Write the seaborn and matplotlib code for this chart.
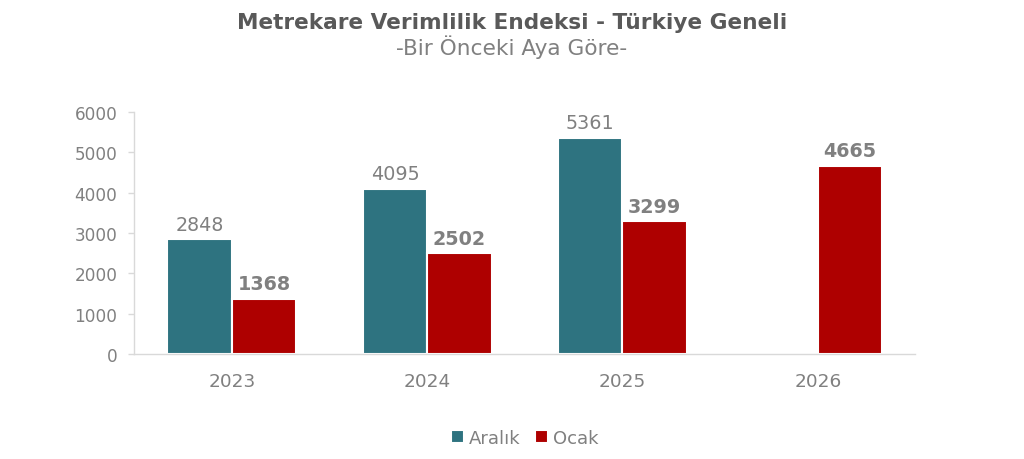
import pandas as pd
import seaborn as sns
import matplotlib.pyplot as plt
import numpy as np

years = ['2023', '2024', '2025', '2026']
aralik = [2848, 4095, 5361, np.nan]
ocak = [1368, 2502, 3299, 4665]

df = pd.DataFrame({
    'yil': years * 2,
    'ay': ['Aralık'] * 4 + ['Ocak'] * 4,
    'deger': aralik + ocak,
})

sns.set_style('white')
plt.rcParams['font.family'] = ['DejaVu Sans']
grey = '#808080'
colors = {'Aralık': '#2E7380', 'Ocak': '#AE0000'}

fig, ax = plt.subplots(figsize=(10.24, 4.6), dpi=100)
fig.subplots_adjust(left=0.131, right=0.894, top=0.754, bottom=0.228)

sns.barplot(data=df, x='yil', y='deger', hue='ay', palette=colors, ax=ax,
            width=0.66, edgecolor='white', linewidth=1.5, saturation=1)

for cont, bold in zip(ax.containers, ['normal', 'bold']):
    labels = ['' if np.isnan(v) else f'{int(v)}' for v in cont.datavalues]
    ax.bar_label(cont, labels=labels, padding=4, fontsize=13.8, color=grey, fontweight=bold)

ax.set_ylim(0, 6000)
ax.set_xlim(-0.5, 3.5)
ax.set_yticks(range(0, 6001, 1000))
ax.set_xlabel('')
ax.set_ylabel('')
ax.tick_params(axis='y', labelsize=12.2, colors=grey, length=4, width=1, color='#D9D9D9',
               left=True, pad=8)
ax.tick_params(axis='x', labelsize=13.3, colors=grey, length=0, pad=13)
for s in ['top', 'right']:
    ax.spines[s].set_visible(False)
for s in ['left', 'bottom']:
    ax.spines[s].set_color('#D9D9D9')
    ax.spines[s].set_linewidth(1)

leg = ax.legend(loc='center', bbox_to_anchor=(0.5, -0.345), ncol=2, frameon=False,
                fontsize=13, handlelength=0.7, handleheight=0.7, handletextpad=0.3,
                columnspacing=0.8)
for t in leg.get_texts():
    t.set_color(grey)

fig.text(0.5, 0.936, 'Metrekare Verimlilik Endeksi - Türkiye Geneli', ha='center',
         fontsize=15.6, fontweight='bold', color='#595959')
fig.text(0.5, 0.88, '-Bir Önceki Aya Göre-', ha='center', fontsize=15.6, color=grey)

fig.savefig('out.png', dpi=100)
